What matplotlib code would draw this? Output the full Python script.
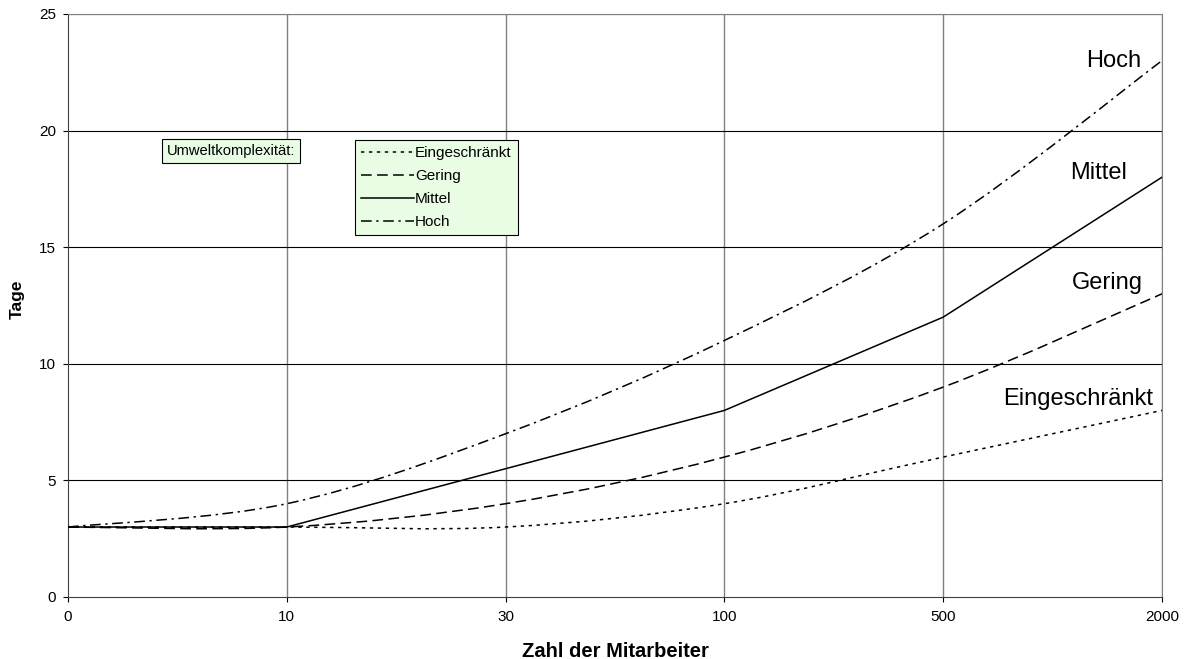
import matplotlib.pyplot as plt
from matplotlib.path import Path
from matplotlib.patches import PathPatch
from matplotlib.lines import Line2D

plt.rcParams['font.family'] = ['Liberation Sans', 'DejaVu Sans']

categories = ['0', '10', '30', '100', '500', '2000']
eingeschraenkt = [3, 3, 3, 4, 6, 8]
gering = [3, 3, 4, 6, 9, 13]
mittel = [3, 3, 5.5, 8, 12, 18]
hoch = [3, 4, 7, 11, 16, 23]


def smooth_path(ys):
    # Bezier through the points, like Excel's "smoothed line"
    xs = list(range(len(ys)))
    pts = list(zip(xs, ys))
    n = len(pts)
    verts = [pts[0]]
    codes = [Path.MOVETO]
    for i in range(n - 1):
        p0 = pts[max(i - 1, 0)]
        p1 = pts[i]
        p2 = pts[i + 1]
        p3 = pts[min(i + 2, n - 1)]
        c1 = (p1[0] + (p2[0] - p0[0]) / 6, p1[1] + (p2[1] - p0[1]) / 6)
        c2 = (p2[0] - (p3[0] - p1[0]) / 6, p2[1] - (p3[1] - p1[1]) / 6)
        verts += [c1, c2, p2]
        codes += [Path.CURVE4] * 3
    return Path(verts, codes)


dots = (0, (2.2, 3))
dashes = (0, (7, 3.5))
dashdot = (0, (7, 3, 1.5, 3))

fig = plt.figure(figsize=(11.88, 6.59), dpi=100)
ax = fig.add_axes([0.0572, 0.0941, 0.9209, 0.8847])

for vals, ls in [(eingeschraenkt, dots), (gering, dashes), (hoch, dashdot)]:
    ax.add_patch(PathPatch(smooth_path(vals), fill=False, edgecolor='black',
                           linewidth=1.1, linestyle=ls, zorder=3))
ax.plot(range(len(mittel)), mittel, color='black', linewidth=1.1, zorder=3)

ax.set_xlim(0, len(categories) - 1)
ax.set_ylim(0, 25)
ax.set_xticks(range(len(categories)))
ax.set_xticklabels(categories)
ax.set_yticks(range(0, 26, 5))
ax.tick_params(labelsize=11, length=3.6, direction='out', width=0.8, pad=5)
ax.tick_params(axis='x', pad=5.5)

for x in range(1, len(categories)):
    ax.axvline(x, color='#808080', linewidth=1, zorder=1)
for y in range(5, 26, 5):
    ax.axhline(y, color='black', linewidth=0.8, zorder=1)

ax.spines['left'].set_color('#404040')
ax.spines['bottom'].set_color('#404040')
ax.spines['right'].set_color('#808080')
ax.spines['top'].set_color('#808080')

ax.set_xlabel('Zahl der Mitarbeiter', fontsize=14.5, fontweight='bold', labelpad=13)
ax.set_ylabel('Tage', fontsize=12.5, fontweight='bold')
ax.yaxis.set_label_coords(-0.0393, 0.51)

# labels at the right end of each curve
for txt, xx, yy in [('Hoch', 4.904, 23.0), ('Mittel', 4.84, 18.2),
                    ('Gering', 4.913, 13.45), ('Eingeschränkt', 4.96, 8.5)]:
    ax.text(xx, yy, txt, fontsize=17, ha='right', va='center', zorder=4)

green = '#E8FDE3'
ax.text(0.0905, 0.765, 'Umweltkomplexität:', transform=ax.transAxes, fontsize=10.6,
        va='center', ha='left', zorder=5,
        bbox=dict(boxstyle='square,pad=0.33', facecolor=green, edgecolor='black', linewidth=0.8))

handles = [Line2D([], [], color='black', linewidth=1.1, linestyle=ls)
           for ls in [dots, dashes, '-', dashdot]]
leg = ax.legend(handles, ['Eingeschränkt', 'Gering', 'Mittel', 'Hoch'],
                loc='upper left', bbox_to_anchor=(0.262, 0.784), borderaxespad=0,
                fontsize=11, fancybox=False, framealpha=1, facecolor=green,
                edgecolor='black', handlelength=3.5, handletextpad=0.05,
                labelspacing=0.58, borderpad=0.42)
leg.get_frame().set_linewidth(0.8)
leg.set_zorder(5)

fig.savefig('out.png', dpi=100)
